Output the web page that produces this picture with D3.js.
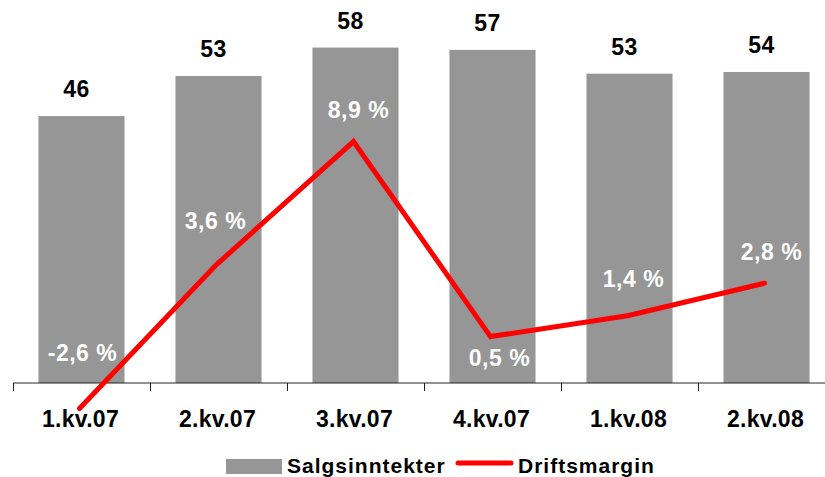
<!DOCTYPE html>
<html>
<head>
<meta charset="utf-8">
<script src="https://cdn.jsdelivr.net/npm/d3@7"></script>
<style>
  body { margin: 0; background: #fff; }
  svg text { font-family: "Liberation Sans", Arial, sans-serif; font-weight: bold; }
</style>
</head>
<body>
<svg id="chart" width="825" height="477"></svg>
<script>
// Quarters and values (bar heights estimated, labels are rounded)
const categories = ["1.kv.07", "2.kv.07", "3.kv.07", "4.kv.07", "1.kv.08", "2.kv.08"];
const salgsinntekter = [46.0, 52.9, 57.8, 57.4, 53.3, 53.6];
const driftsmargin = [-2.6, 3.6, 8.9, 0.5, 1.4, 2.8];
const marginLabels = ["-2,6 %", "3,6 %", "8,9 %", "0,5 %", "1,4 %", "2,8 %"];

// label nudges for the margin labels (px, relative to the point)
const labelDx = [1, -3, 3, 7, 4, 5];
const labelDy = [-48, -36, -24, 29, -29, -23];

const svg = d3.select("#chart");
const axisY = 383;

// band scale spans past the right edge, like the original
const x = d3.scaleBand()
            .domain(categories)
            .range([13, 835])
            .paddingInner(0.372)
            .paddingOuter(0.186);

const y = d3.scaleLinear().domain([0, 66]).range([axisY, 0]);
const y2 = d3.scaleLinear().domain([-1.5, 15]).range([axisY, 0]);

// Bars
svg.selectAll(".bar")
   .data(salgsinntekter)
   .enter().append("rect")
   .attr("class", "bar")
   .attr("x", (d, i) => x(categories[i]))
   .attr("y", d => y(d))
   .attr("width", x.bandwidth())
   .attr("height", d => axisY - y(d))
   .attr("fill", "#969696");

// Bar value labels
svg.selectAll(".barLabel")
   .data(salgsinntekter)
   .enter().append("text")
   .attr("x", (d, i) => x(categories[i]) + x.bandwidth() / 2 - 5)
   .attr("y", d => y(d) - 19)
   .attr("text-anchor", "middle")
   .attr("font-size", 23)
   .attr("letter-spacing", 0.5)
   .attr("fill", "#000")
   .text(d => d3.format(".0f")(d));

// X axis: line + ticks at band edges + labels
const gap = x.step() - x.bandwidth();
const edges = categories.map(c => x(c) - gap / 2);
edges.push(x(categories[categories.length - 1]) + x.bandwidth() + gap / 2);

svg.append("line")
   .attr("x1", edges[0]).attr("x2", 825)
   .attr("y1", axisY).attr("y2", axisY)
   .attr("stroke", "#222").attr("stroke-width", 1);

svg.selectAll(".tick")
   .data(edges)
   .enter().append("line")
   .attr("x1", d => Math.round(d) + 0.5).attr("x2", d => Math.round(d) + 0.5)
   .attr("y1", axisY).attr("y2", axisY + 8)
   .attr("stroke", "#222");

svg.selectAll(".catLabel")
   .data(categories)
   .enter().append("text")
   .attr("x", d => x(d) + x.bandwidth() / 2 - 1)
   .attr("y", 427)
   .attr("text-anchor", "middle")
   .attr("font-size", 23)
   .attr("letter-spacing", 0.3)
   .attr("fill", "#000")
   .text(d => d);

// Margin line
const line = d3.line()
               .x((d, i) => x(categories[i]) + x.bandwidth() / 2 - 2)
               .y(d => y2(d));

svg.append("path")
   .datum(driftsmargin)
   .attr("d", line)
   .attr("fill", "none")
   .attr("stroke", "#ff0000")
   .attr("stroke-width", 5)
   .attr("stroke-linecap", "round")
   .attr("stroke-linejoin", "miter");

svg.selectAll(".marginLabel")
   .data(driftsmargin)
   .enter().append("text")
   .attr("x", (d, i) => x(categories[i]) + x.bandwidth() / 2 + labelDx[i])
   .attr("y", (d, i) => y2(d) + labelDy[i])
   .attr("text-anchor", "middle")
   .attr("font-size", 23)
   .attr("letter-spacing", 0.5)
   .attr("fill", "#fff")
   .text((d, i) => marginLabels[i]);

// Legend
const legend = svg.append("g");
legend.append("rect")
      .attr("x", 226).attr("y", 459)
      .attr("width", 56).attr("height", 15)
      .attr("fill", "#969696");
legend.append("text")
      .attr("x", 287).attr("y", 473)
      .attr("font-size", 21)
      .attr("letter-spacing", 1)
      .attr("fill", "#000")
      .text("Salgsinntekter");
legend.append("line")
      .attr("x1", 458).attr("x2", 511)
      .attr("y1", 463).attr("y2", 463)
      .attr("stroke", "#ff0000").attr("stroke-width", 5)
      .attr("stroke-linecap", "round");
legend.append("text")
      .attr("x", 518).attr("y", 473)
      .attr("font-size", 21)
      .attr("letter-spacing", 1)
      .attr("fill", "#000")
      .text("Driftsmargin");
</script>
</body>
</html>
